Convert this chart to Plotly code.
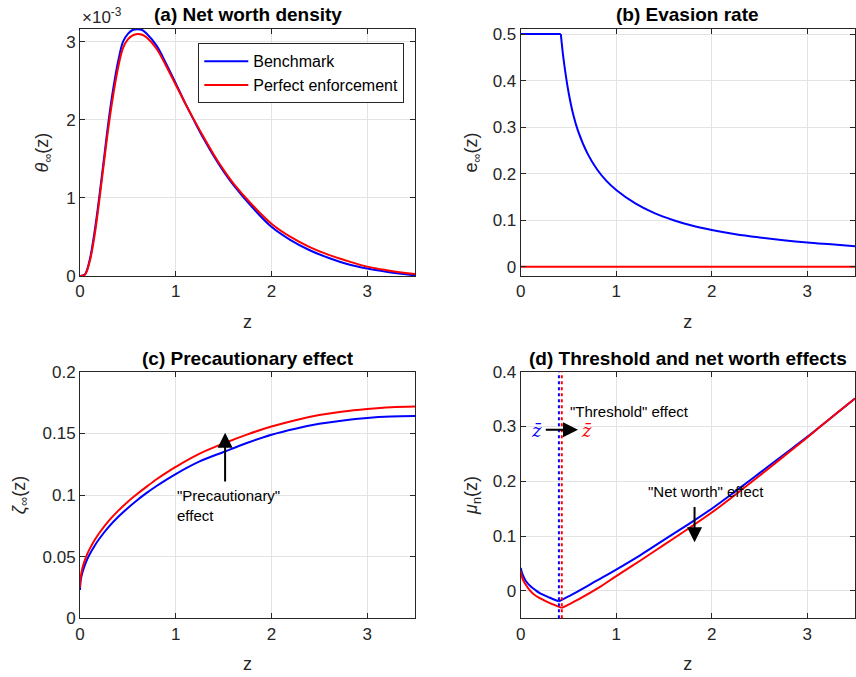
import plotly.graph_objects as go

# ---------------- data ----------------
# (a) net worth density (units of 1e-3)
za = [0, 0.05, 0.1, 0.15, 0.2, 0.25, 0.3, 0.35, 0.4, 0.45, 0.5, 0.55, 0.6, 0.65, 0.7, 0.8, 0.9,
      1.0, 1.1, 1.2, 1.3, 1.4, 1.5, 1.6, 1.8, 2.0, 2.2, 2.4, 2.6, 2.8, 3.0, 3.2, 3.5]
dens_bench = [0, 0.02, 0.2, 0.55, 1.0, 1.5, 2.0, 2.42, 2.76, 3.0, 3.1, 3.15, 3.16, 3.15, 3.1, 2.95, 2.72,
              2.47, 2.21, 1.97, 1.74, 1.53, 1.34, 1.17, 0.88, 0.63, 0.46, 0.33, 0.23, 0.15, 0.095, 0.055, 0.008]
dens_perf = [0, 0.015, 0.18, 0.5, 0.95, 1.45, 1.93, 2.34, 2.68, 2.92, 3.03, 3.08, 3.10, 3.09, 3.05, 2.91, 2.69,
             2.45, 2.21, 1.98, 1.76, 1.55, 1.36, 1.19, 0.91, 0.67, 0.5, 0.37, 0.27, 0.19, 0.12, 0.075, 0.025]

# (b) evasion rate
zb = [0, 0.42, 0.45, 0.5, 0.55, 0.6, 0.7, 0.8, 0.9, 1.0, 1.2, 1.4, 1.6, 1.8, 2.0, 2.25, 2.5, 2.75, 3.0,
      3.25, 3.5]
evade_bench = [0.5, 0.5, 0.444, 0.376, 0.327, 0.292, 0.243, 0.209, 0.184, 0.165, 0.136, 0.115, 0.100,
               0.088, 0.079, 0.070, 0.063, 0.057, 0.052, 0.048, 0.044]
evade_kink = 0.42
zb_perf = [0, 3.5]
evade_perf = [0, 0]

# (c) precautionary effect
zc = [0, 0.005, 0.01, 0.02, 0.035, 0.05, 0.075, 0.1, 0.15, 0.2, 0.3, 0.4, 0.5, 0.6, 0.7, 0.8, 0.9, 1.0,
      1.25, 1.5, 1.75, 2.0, 2.25, 2.5, 2.75, 3.0, 3.25, 3.5]
zeta_bench = [0.023, 0.0295, 0.032, 0.0355, 0.0397, 0.043, 0.0478, 0.0518, 0.0585, 0.0643, 0.0741,
              0.0823, 0.0895, 0.096, 0.1019, 0.1073, 0.1123, 0.117, 0.1272, 0.1349, 0.1424, 0.1489,
              0.1538, 0.1577, 0.1605, 0.1625, 0.1636, 0.164]
zeta_perf = [0.025, 0.032, 0.0349, 0.039, 0.0434, 0.047, 0.052, 0.0561, 0.0631, 0.069, 0.079, 0.0873,
             0.0946, 0.101, 0.107, 0.1128, 0.118, 0.1228, 0.1335, 0.1418, 0.1492, 0.1555, 0.1607,
             0.1648, 0.1678, 0.1698, 0.1712, 0.1718]

# (d) threshold and net worth effects
zd_bench = [0, 0.02, 0.05, 0.1, 0.15, 0.2, 0.3, 0.4, 0.5, 0.6, 0.8, 1.0, 1.25, 1.5, 1.75, 2.0, 2.25, 2.5,
            2.75, 3.0, 3.25, 3.5]
mu_bench = [0.042, 0.030, 0.019, 0.009, 0.002, -0.004, -0.012, -0.019, -0.010, -0.001, 0.019, 0.039,
            0.065, 0.093, 0.121, 0.150, 0.182, 0.215, 0.248, 0.281, 0.316, 0.351]
zd_perf = [0, 0.02, 0.05, 0.1, 0.15, 0.2, 0.3, 0.43, 0.5, 0.6, 0.8, 1.0, 1.25, 1.5, 1.75, 2.0, 2.25, 2.5,
           2.75, 3.0, 3.25, 3.5]
mu_perf = [0.036, 0.022, 0.012, 0.0, -0.008, -0.013, -0.022, -0.031, -0.025, -0.016, 0.004, 0.027,
           0.055, 0.084, 0.113, 0.143, 0.176, 0.210, 0.245, 0.280, 0.316, 0.351]
zbar_bench = 0.40
zbar_perf = 0.43

BLUE = "#0000FF"
RED = "#FF0000"
AX = "#262626"
GRID = "#e3e3e3"
FONT = "Liberation Sans"


def split(xs, ys, k):
    a = [(x, y) for x, y in zip(xs, ys) if x <= k]
    b = [(x, y) for x, y in zip(xs, ys) if x >= k]
    return [p[0] for p in a], [p[1] for p in a], [p[0] for p in b], [p[1] for p in b]


fig = go.Figure()

# (a)
fig.add_trace(go.Scatter(x=za, y=dens_bench, mode="lines", name="Benchmark",
                         line=dict(color=BLUE, width=2, shape="spline"), xaxis="x", yaxis="y"))
fig.add_trace(go.Scatter(x=za, y=dens_perf, mode="lines", name="Perfect enforcement",
                         line=dict(color=RED, width=2, shape="spline"), xaxis="x", yaxis="y"))

# (b)
x1, y1, x2, y2 = split(zb, evade_bench, evade_kink)
fig.add_trace(go.Scatter(x=zb_perf, y=evade_perf, mode="lines", showlegend=False,
                         line=dict(color=RED, width=2), xaxis="x2", yaxis="y2"))
fig.add_trace(go.Scatter(x=x1, y=y1, mode="lines", showlegend=False,
                         line=dict(color=BLUE, width=2), xaxis="x2", yaxis="y2"))
fig.add_trace(go.Scatter(x=x2, y=y2, mode="lines", showlegend=False,
                         line=dict(color=BLUE, width=2, shape="spline"), xaxis="x2", yaxis="y2"))

# (c)
fig.add_trace(go.Scatter(x=zc, y=zeta_bench, mode="lines", showlegend=False,
                         line=dict(color=BLUE, width=2, shape="spline"), xaxis="x3", yaxis="y3"))
fig.add_trace(go.Scatter(x=zc, y=zeta_perf, mode="lines", showlegend=False,
                         line=dict(color=RED, width=2, shape="spline"), xaxis="x3", yaxis="y3"))

# (d)
for zz, mm, k, col in [(zd_bench, mu_bench, zbar_bench, BLUE), (zd_perf, mu_perf, zbar_perf, RED)]:
    x1, y1, x2, y2 = split(zz, mm, k)
    fig.add_trace(go.Scatter(x=x1, y=y1, mode="lines", showlegend=False,
                             line=dict(color=col, width=2, shape="spline"), xaxis="x4", yaxis="y4"))
    fig.add_trace(go.Scatter(x=x2, y=y2, mode="lines", showlegend=False,
                             line=dict(color=col, width=2, shape="spline"), xaxis="x4", yaxis="y4"))

# threshold dotted lines
for k, col in [(zbar_bench, BLUE), (zbar_perf, RED)]:
    fig.add_shape(type="line", xref="x4", yref="y4 domain", x0=k, x1=k, y0=0, y1=1,
                  line=dict(color=col, width=2, dash="dot"))

W, H = 856, 677
xl = [80 / W, 415 / W]
xr = [520.7 / W, 855 / W]
yt = [(H - 276) / H, (H - 29) / H]
yb = [(H - 618.3) / H, (H - 371.7) / H]

tickfont = dict(family=FONT, size=17, color=AX)
common = dict(showline=True, linecolor=AX, linewidth=1, mirror="ticks", ticks="inside", ticklen=5,
              tickcolor=AX, showgrid=True, gridcolor=GRID, gridwidth=1, zeroline=False,
              tickfont=tickfont, automargin=False)


def xax(dom, anchor):
    return dict(domain=dom, anchor=anchor, range=[0, 3.5], tickvals=[0, 1, 2, 3],
                title=dict(text="z", font=dict(family=FONT, size=18, color=AX), standoff=14), **common)


def yax(dom, anchor, rng, tv, title, standoff):
    return dict(domain=dom, anchor=anchor, range=rng, tickvals=tv,
                title=dict(text=title, font=dict(family=FONT, size=18, color=AX), standoff=standoff),
                **common)


fig.update_layout(
    width=W, height=H, margin=dict(l=0, r=0, t=0, b=0),
    paper_bgcolor="white", plot_bgcolor="white",
    font=dict(family=FONT, color=AX),
    xaxis=xax(xl, "y"),
    yaxis=yax(yt, "x", [0, 3.163], [0, 1, 2, 3], "<i>θ</i><sub>∞</sub>(z)", 12),
    xaxis2=xax(xr, "y2"),
    yaxis2=yax(yt, "x2", [-0.02, 0.511], [0, 0.1, 0.2, 0.3, 0.4, 0.5], "e<sub>∞</sub>(z)", 10),
    xaxis3=xax(xl, "y3"),
    yaxis3=yax(yb, "x3", [0, 0.2], [0, 0.05, 0.1, 0.15, 0.2], "<i>ζ</i><sub>∞</sub>(z)", 12),
    xaxis4=xax(xr, "y4"),
    yaxis4=yax(yb, "x4", [-0.05, 0.4], [0, 0.1, 0.2, 0.3, 0.4], "<i>μ</i><sub>n</sub>(z)", 10),
    legend=dict(x=198.3 / W, y=1 - 43.3 / H, xanchor="left", yanchor="top",
                bgcolor="white", bordercolor=AX, borderwidth=1, itemwidth=44,
                font=dict(family=FONT, size=16, color="black"), tracegroupgap=0),
    showlegend=True,
)

titles = [("(a) Net worth density", 247.5, 15), ("(b) Evasion rate", 687.5, 15),
          ("(c) Precautionary effect", 247.5, 358), ("(d) Threshold and net worth effects", 687.5, 358)]
for t, x, y in titles:
    fig.add_annotation(text="<b>" + t + "</b>", xref="paper", yref="paper", x=x / W, y=1 - y / H,
                       showarrow=False, xanchor="center", yanchor="middle",
                       font=dict(family=FONT, size=19, color="black"))

# x10^-3 multiplier
fig.add_annotation(text="×10<sup>-3</sup>", xref="paper", yref="paper", x=80 / W, y=1 - 16 / H,
                   showarrow=False, xanchor="left", yanchor="middle",
                   font=dict(family=FONT, size=17, color=AX))

afont = dict(family=FONT, size=15, color="black")
# (c) annotations
fig.add_annotation(x=1.516, y=0.1505, ax=1.516, ay=0.1097, xref="x3", yref="y3", axref="x3", ayref="y3",
                   text="", showarrow=True, arrowhead=2, arrowsize=1.5, arrowwidth=2, arrowcolor="black")
fig.add_annotation(x=0.99, y=0.0915, xref="x3", yref="y3", text='"Precautionary"<br>effect',
                   showarrow=False, xanchor="left", yanchor="middle", align="left", font=afont)

# (d) annotations
fig.add_annotation(x=0.49, y=0.328, xref="x4", yref="y4", text='"Threshold" effect',
                   showarrow=False, xanchor="left", yanchor="middle", font=afont)
fig.add_annotation(x=0.60, y=0.294, ax=0.247, ay=0.294, xref="x4", yref="y4", axref="x4", ayref="y4",
                   text="", showarrow=True, arrowhead=2, arrowsize=1.5, arrowwidth=2, arrowcolor="black")
fig.add_annotation(x=0.168, y=0.293, xref="x4", yref="y4", text="<i>z̄</i>", showarrow=False,
                   font=dict(family="DejaVu Serif", size=18, color=BLUE))
fig.add_annotation(x=0.687, y=0.293, xref="x4", yref="y4", text="<i>z̄</i>", showarrow=False,
                   font=dict(family="DejaVu Serif", size=18, color=RED))
fig.add_annotation(x=1.94, y=0.181, xref="x4", yref="y4", text='"Net worth" effect',
                   showarrow=False, xanchor="center", yanchor="middle", font=afont)
fig.add_annotation(x=1.82, y=0.089, ax=1.82, ay=0.156, xref="x4", yref="y4", axref="x4", ayref="y4",
                   text="", showarrow=True, arrowhead=2, arrowsize=1.5, arrowwidth=2, arrowcolor="black")

fig.write_html("out.html")
